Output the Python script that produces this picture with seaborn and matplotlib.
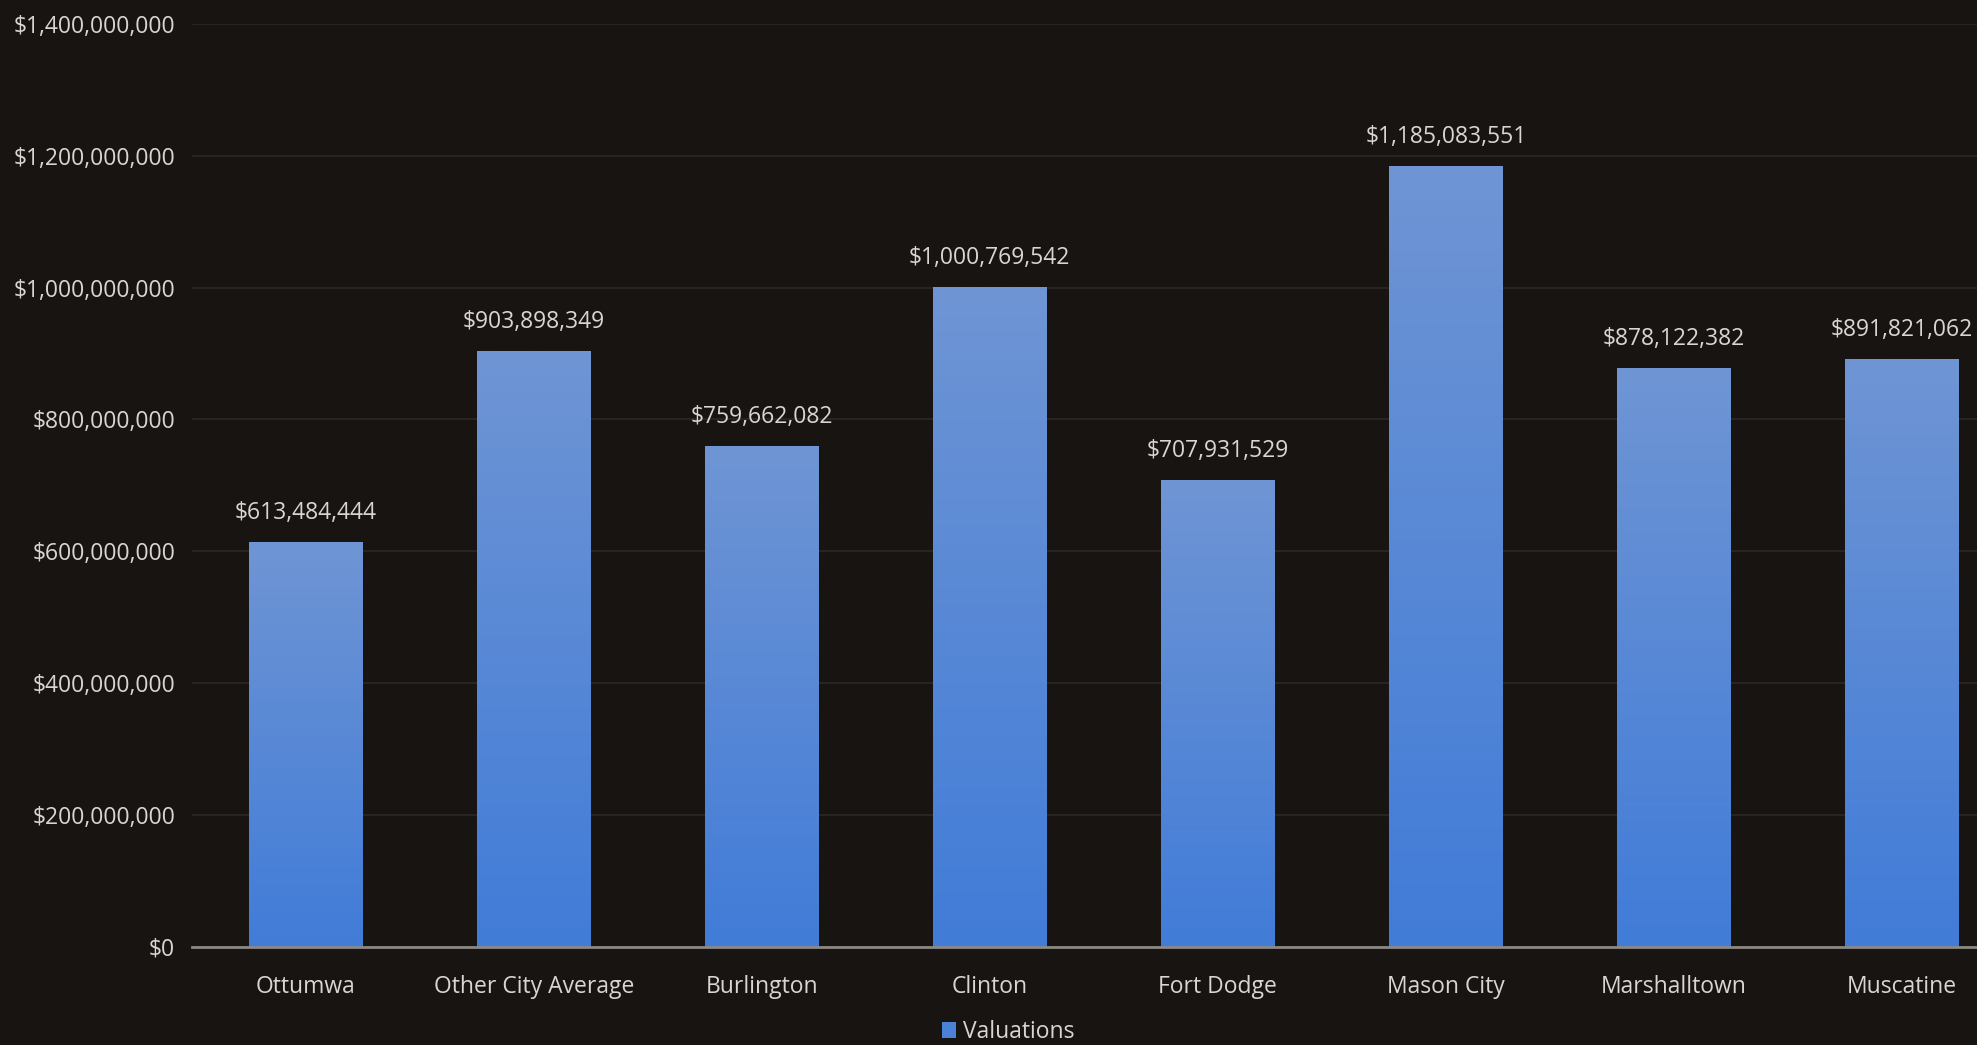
import numpy as np
import pandas as pd
import matplotlib
matplotlib.use("Agg")
import matplotlib.pyplot as plt
from matplotlib.colors import LinearSegmentedColormap
from matplotlib.ticker import FuncFormatter, MultipleLocator
from matplotlib.patches import Rectangle
import seaborn as sns

cities = ["Ottumwa", "Other City Average", "Burlington", "Clinton",
          "Fort Dodge", "Mason City", "Marshalltown", "Muscatine"]
valuations = [613484444, 903898349, 759662082, 1000769542,
              707931529, 1185083551, 878122382, 891821062]
series_name = "Valuations"

df = pd.DataFrame({"City": cities, "Value": valuations})

BG = "#181411"
TXT = "#d8d6d4"
BAR_TOP = "#6f95d4"
BAR_BOT = "#417cd8"
FS = 16.5

sns.set_theme(style="dark")
plt.rcParams["font.family"] = ["Open Sans", "DejaVu Sans"]

fig = plt.figure(figsize=(19.77, 10.45), dpi=100, facecolor=BG)
ax = fig.add_axes([0.097, 0.094, 0.903, 0.883])
ax.set_facecolor(BG)

sns.barplot(data=df, x="City", y="Value", color=BAR_BOT, width=0.5,
            saturation=1, ax=ax, zorder=2)

# vertical gradient fill inside each bar
cmap = LinearSegmentedColormap.from_list("bar", [BAR_BOT, BAR_TOP])
grad = np.linspace(0, 1, 256).reshape(-1, 1)
for p in ax.patches:
    x0, y0 = p.get_x(), p.get_y()
    w, h = p.get_width(), p.get_height()
    im = ax.imshow(grad, cmap=cmap, aspect="auto", origin="lower",
                   extent=(x0, x0 + w, y0, y0 + h), zorder=2.5,
                   vmin=0, vmax=1)
    im.set_clip_path(p)
    p.set_facecolor("none")
    p.set_edgecolor("none")

ax.set_xlim(-0.5, 7.33)
ax.set_ylim(0, 1.4e9)

# value labels
for i, v in enumerate(valuations):
    ax.text(i, v + 0.026e9, f"${v:,.0f}", ha="center", va="bottom",
            color=TXT, fontsize=FS, zorder=4)

ax.yaxis.set_major_locator(MultipleLocator(2e8))
ax.yaxis.set_major_formatter(FuncFormatter(lambda v, _: f"${v:,.0f}"))
ax.grid(axis="y", color="#2d2825", linewidth=1.2, zorder=0)
ax.grid(axis="x", visible=False)
ax.set_axisbelow(True)

for s in ["top", "right", "left"]:
    ax.spines[s].set_visible(False)
ax.spines["bottom"].set_color("#8c8884")
ax.spines["bottom"].set_linewidth(2)
ax.spines["bottom"].set_zorder(5)

ax.tick_params(axis="y", colors=TXT, labelsize=FS, length=0, pad=12)
ax.tick_params(axis="x", colors=TXT, labelsize=FS, length=0, pad=20)
for lab in ax.get_yticklabels() + ax.get_xticklabels():
    lab.set_color(TXT)
ax.set_xlabel("")
ax.set_ylabel("")

# legend
handle = Rectangle((0, 0), 1, 1, facecolor="#4a82d8", edgecolor="none")
fig.legend([handle], [series_name], loc="center",
           bbox_to_anchor=(0.51, 0.012), frameon=False,
           fontsize=FS, handlelength=0.6, handleheight=0.7,
           handletextpad=0.3, labelcolor=TXT)

fig.savefig("out.png", dpi=100, facecolor=BG)
